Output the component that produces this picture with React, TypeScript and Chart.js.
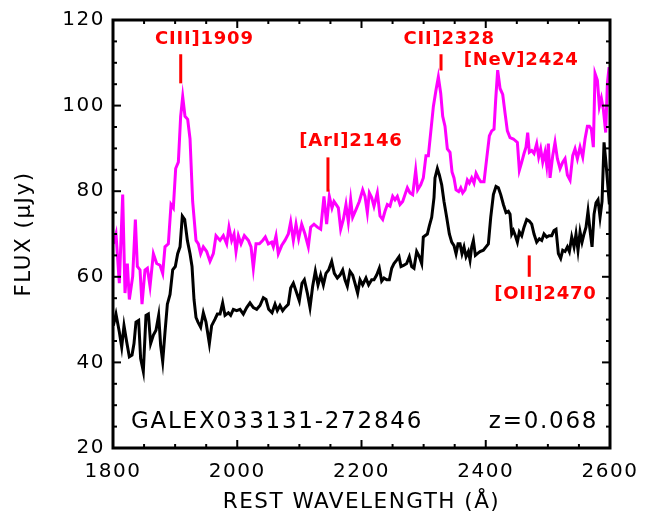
import React, { useEffect, useRef } from 'react';
import { Chart, registerables } from 'chart.js';

Chart.register(...registerables);

// ---------- data ----------
const xTickValues = [1800, 2000, 2200, 2400, 2600];
const xTickLabels = ['1800', '2000', '2200', '2400', '2600'];
const yTickValues = [20, 40, 60, 80, 100, 120];
const yTickLabels = ['20', '40', '60', '80', '100', '120'];

const magentaWave = [
  1800.5, 1804.8, 1810.2, 1815.6, 1819.3, 1823.1, 1826.3, 1831.7, 1836.0, 1839.2,
  1843.5, 1846.7, 1851.5, 1855.3, 1859.6, 1865.0, 1870.3, 1875.7, 1880.0, 1883.7,
  1889.1, 1893.4, 1897.1, 1900.9, 1905.2, 1908.9, 1912.2, 1915.9, 1920.2, 1924.0,
  1928.2, 1933.6, 1937.4, 1941.1, 1945.4, 1950.8, 1956.1, 1961.5, 1965.8, 1972.3,
  1977.6, 1983.0, 1986.7, 1991.0, 1994.8, 1998.0, 2001.8, 2006.1, 2011.4, 2017.9,
  2022.2, 2025.9, 2030.2, 2035.6, 2040.9, 2045.2, 2050.0, 2055.4, 2058.1, 2062.4,
  2066.1, 2071.5, 2076.8, 2082.2, 2086.0, 2090.3, 2094.6, 2098.8, 2103.7, 2109.0,
  2114.4, 2118.2, 2123.5, 2128.9, 2134.3, 2139.6, 2143.9, 2148.2, 2152.5, 2155.7,
  2159.0, 2162.7, 2166.5, 2170.8, 2175.0, 2178.8, 2182.6, 2185.8, 2191.1, 2196.5,
  2201.9, 2205.6, 2209.4, 2212.6, 2216.4, 2220.1, 2225.5, 2229.8, 2234.1, 2237.8,
  2241.6, 2245.9, 2250.2, 2253.9, 2257.7, 2262.0, 2266.3, 2270.0, 2273.8, 2278.1,
  2282.4, 2287.2, 2290.4, 2295.3, 2299.5, 2303.8, 2307.6, 2315.7, 2320.0, 2323.7,
  2327.5, 2330.7, 2334.4, 2338.2, 2342.5, 2345.7, 2348.9, 2352.2, 2356.4, 2359.7,
  2362.9, 2366.6, 2370.4, 2373.6, 2377.4, 2381.1, 2384.4, 2388.1, 2391.9, 2397.2,
  2401.5, 2405.8, 2409.6, 2413.3, 2416.0, 2419.2, 2423.0, 2427.3, 2431.0, 2434.8,
  2439.1, 2444.5, 2450.9, 2454.1, 2457.9, 2461.6, 2464.8, 2467.5, 2470.2, 2474.0,
  2477.7, 2482.0, 2485.2, 2488.4, 2491.7, 2495.4, 2498.1, 2500.8, 2503.5, 2507.8,
  2511.5, 2515.3, 2519.6, 2523.9, 2527.6, 2531.4, 2535.7, 2540.0, 2543.7, 2547.5,
  2551.8, 2556.1, 2559.8, 2563.6, 2566.8, 2570.0, 2573.2, 2575.9, 2579.7, 2582.9,
  2586.1, 2589.3, 2593.1, 2595.8, 2598.5,
];
const magentaFlux = [
  67.7, 70.0, 58.5, 79.2, 56.2, 63.1, 54.7, 60.1, 73.4, 62.4,
  61.6, 53.6, 61.6, 62.0, 57.8, 65.4, 63.1, 62.7, 60.8, 67.0,
  67.7, 76.9, 76.1, 85.3, 86.8, 97.5, 102.1, 97.5, 96.8, 92.2,
  77.6, 68.5, 67.7, 65.4, 67.0, 65.9, 63.6, 65.4, 69.6, 68.5,
  69.6, 67.7, 71.6, 68.5, 70.0, 65.9, 69.6, 67.7, 69.6, 68.5,
  67.0, 62.0, 67.7, 67.7, 68.5, 69.3, 67.7, 68.1, 67.0, 69.6,
  65.4, 67.3, 68.5, 70.0, 72.8, 68.5, 72.3, 68.9, 72.3, 70.0,
  67.0, 71.6, 72.3, 71.6, 71.1, 78.8, 72.3, 78.8, 76.1, 77.6,
  76.9, 76.1, 71.1, 73.4, 76.9, 72.8, 78.0, 73.9, 75.7, 77.6,
  80.3, 78.8, 75.0, 79.6, 78.5, 76.5, 79.6, 74.2, 73.4, 75.3,
  76.9, 76.5, 78.8, 78.0, 78.8, 76.9, 77.6, 79.2, 80.8, 79.6,
  79.2, 84.9, 80.3, 81.5, 83.1, 88.3, 88.3, 99.8, 103.7, 106.7,
  102.9, 97.5, 95.2, 89.9, 89.1, 84.5, 83.1, 80.3, 79.9, 80.8,
  79.6, 80.3, 82.6, 81.9, 83.1, 81.9, 84.2, 83.1, 82.2, 82.2,
  87.6, 92.9, 94.1, 94.5, 101.4, 108.3, 104.0, 102.6, 98.3, 94.1,
  92.5, 92.2, 91.4, 84.9, 86.8, 88.8, 90.3, 93.7, 89.1, 89.5,
  88.8, 91.1, 88.0, 89.9, 86.8, 89.1, 86.1, 91.1, 83.1, 88.3,
  91.4, 87.6, 85.3, 86.8, 87.6, 83.8, 82.6, 88.3, 89.9, 87.6,
  90.3, 88.0, 92.2, 95.2, 95.2, 94.5, 90.3, 107.5, 105.9, 99.8,
  101.7, 99.1, 93.7, 105.2, 109.0,
];

const blackWave = [
  1800.5, 1804.8, 1810.2, 1814.0, 1817.7, 1822.0, 1826.3, 1830.6, 1833.8, 1837.0,
  1841.3, 1844.5, 1848.8, 1853.1, 1856.9, 1860.6, 1865.0, 1869.2, 1873.5, 1876.7,
  1880.0, 1883.7, 1887.5, 1891.8, 1896.1, 1900.3, 1904.1, 1907.9, 1911.6, 1915.4,
  1919.7, 1924.0, 1927.2, 1930.4, 1933.6, 1936.8, 1941.1, 1945.4, 1949.7, 1955.1,
  1958.8, 1964.2, 1968.0, 1972.3, 1976.5, 1980.3, 1985.7, 1989.4, 1993.7, 1999.1,
  2004.4, 2009.8, 2015.2, 2020.5, 2025.9, 2031.3, 2036.6, 2042.0, 2046.3, 2050.6,
  2056.0, 2060.8, 2064.5, 2068.8, 2073.1, 2076.8, 2082.2, 2086.0, 2090.3, 2094.6,
  2099.9, 2104.2, 2108.0, 2112.8, 2117.1, 2121.4, 2125.7, 2130.0, 2134.3, 2138.6,
  2142.8, 2147.1, 2152.0, 2156.3, 2161.1, 2165.4, 2169.7, 2173.4, 2177.2, 2181.5,
  2185.8, 2189.5, 2193.8, 2197.6, 2201.9, 2207.2, 2211.5, 2216.4, 2220.1, 2224.4,
  2228.7, 2232.5, 2236.2, 2240.5, 2244.8, 2248.6, 2252.3, 2256.6, 2260.4, 2263.6,
  2268.4, 2272.7, 2277.0, 2280.8, 2284.5, 2288.8, 2293.1, 2296.9, 2299.5, 2302.2,
  2306.0, 2309.2, 2313.0, 2316.7, 2318.3, 2322.1, 2325.3, 2329.1, 2332.8, 2337.1,
  2341.4, 2345.2, 2348.9, 2352.2, 2355.4, 2358.6, 2361.8, 2365.0, 2368.3, 2372.0,
  2374.7, 2377.4, 2380.1, 2383.3, 2386.5, 2390.8, 2396.2, 2400.4, 2404.2, 2408.0,
  2412.3, 2416.5, 2420.3, 2424.1, 2428.4, 2432.6, 2436.4, 2439.1, 2441.8, 2444.5,
  2447.7, 2450.9, 2454.1, 2457.9, 2461.6, 2465.9, 2470.2, 2474.0, 2477.7, 2482.0,
  2486.3, 2490.1, 2493.8, 2498.1, 2501.9, 2506.2, 2509.9, 2513.1, 2516.9, 2520.6,
  2523.9, 2527.6, 2531.4, 2534.6, 2538.4, 2542.1, 2545.3, 2548.5, 2551.8, 2555.0,
  2558.2, 2561.4, 2564.6, 2567.9, 2571.1, 2574.3, 2577.5, 2580.7, 2584.0, 2587.2,
  2590.4, 2593.6, 2596.8, 2599.0,
];
const blackFlux = [
  48.6, 51.3, 47.1, 43.6, 48.6, 44.8, 41.3, 41.7, 44.4, 49.4,
  49.8, 40.9, 37.9, 51.0, 51.3, 44.4, 46.4, 47.5, 51.0, 44.0,
  40.2, 47.1, 53.6, 55.9, 61.6, 62.4, 65.4, 67.0, 74.2, 73.4,
  68.5, 65.4, 62.4, 54.7, 50.5, 49.4, 48.2, 51.6, 49.4, 44.4,
  48.6, 50.1, 51.3, 51.3, 53.9, 51.0, 51.6, 51.0, 52.4, 52.1,
  52.4, 51.3, 52.8, 53.9, 52.8, 52.4, 53.3, 55.1, 54.7, 52.4,
  51.6, 53.6, 52.1, 53.3, 52.1, 52.8, 53.6, 57.4, 58.5, 56.7,
  54.4, 58.5, 59.3, 56.2, 52.8, 57.8, 61.3, 58.1, 60.4, 58.1,
  60.8, 61.6, 63.6, 60.8, 59.7, 60.4, 61.6, 59.3, 57.8, 61.3,
  60.4, 58.5, 56.2, 59.3, 58.1, 59.7, 58.1, 59.3, 59.3, 60.4,
  62.0, 59.0, 59.7, 59.3, 59.3, 62.0, 63.1, 63.9, 64.7, 62.4,
  62.7, 63.1, 64.7, 62.4, 62.0, 65.9, 64.7, 63.1, 69.3, 69.6,
  70.0, 71.9, 73.9, 78.5, 83.1, 85.3, 83.8, 81.5, 77.6, 73.9,
  70.0, 68.1, 67.3, 65.4, 67.7, 67.7, 65.4, 67.0, 64.7, 65.9,
  63.9, 67.0, 68.5, 65.0, 65.4, 65.9, 66.2, 67.0, 67.7, 73.9,
  79.2, 81.1, 80.8, 79.2, 76.9, 75.0, 75.3, 74.6, 70.0, 70.8,
  69.6, 68.1, 70.5, 69.6, 71.6, 73.4, 73.0, 72.3, 70.0, 68.1,
  68.9, 68.5, 70.0, 69.3, 69.6, 69.6, 70.8, 71.1, 65.4, 64.3,
  66.2, 65.9, 67.0, 65.9, 69.3, 67.0, 70.0, 66.2, 70.5, 68.1,
  70.0, 71.6, 75.3, 70.8, 67.0, 74.6, 77.3, 78.0, 73.9, 77.6,
  91.4, 86.5, 80.8, 76.9,
];

// emission-line annotations (rest wavelength, label)
const lineNames = ['CIII]1909', '[ArI]2146', 'CII]2328', '[NeV]2424', '[OII]2470'];
const lineWaves = [1909, 2146, 2328, 2424, 2470];
// placement in data units: [barLow, barHigh] (null = no bar), label centre [wave, flux]
const lineBars: (number[] | null)[] = [[105.2, 112.0], [79.9, 87.9], [108.2, 112.0], null, [60.0, 65.0]];
const lineLabelPos = [[1947, 115.5], [2183, 91.6], [2341, 115.6], [2457, 110.6], [2496, 55.8]];

const objectName = 'GALEX033131-272846';
const redshiftText = 'z=0.068';
const objectNamePos = [2064, 26.1];
const redshiftPos = [2493, 26.1];

// ---------- chart ----------
const FONT = '"DejaVu Sans", sans-serif';
const RED = '#ff0000';

const framePlugin = {
  id: 'idlFrame',
  beforeDraw(chart: any) {
    chart.ctx.letterSpacing = '1.5px';
  },
  afterDatasetsDraw(chart: any) {
    const { ctx, chartArea: a } = chart;
    const x = chart.scales.x;
    const y = chart.scales.y;
    const seg = (x1: number, y1: number, x2: number, y2: number) => {
      ctx.beginPath();
      ctx.moveTo(x1, y1);
      ctx.lineTo(x2, y2);
      ctx.stroke();
    };
    ctx.save();
    ctx.strokeStyle = '#000';
    ctx.lineWidth = 2;
    for (let v = x.min; v <= x.max + 1e-6; v += 50) {
      const px = x.getPixelForValue(v);
      const len = v % 200 === 0 ? 8 : 4;
      seg(px, a.bottom, px, a.bottom - len);
      seg(px, a.top, px, a.top + len);
    }
    for (let v = y.min; v <= y.max + 1e-6; v += 5) {
      const py = y.getPixelForValue(v);
      const len = v % 20 === 0 ? 8 : 4;
      seg(a.left, py, a.left + len, py);
      seg(a.right, py, a.right - len, py);
    }
    ctx.lineWidth = 3;
    ctx.strokeRect(a.left, a.top, a.right - a.left, a.bottom - a.top);

    // line markers
    ctx.strokeStyle = RED;
    ctx.fillStyle = RED;
    ctx.lineWidth = 3;
    ctx.font = `bold 18px ${FONT}`;
    ctx.letterSpacing = '0.8px';
    ctx.textAlign = 'center';
    ctx.textBaseline = 'middle';
    lineNames.forEach((name, i) => {
      const bar = lineBars[i];
      if (bar) {
        const px = x.getPixelForValue(lineWaves[i]);
        seg(px, y.getPixelForValue(bar[0]), px, y.getPixelForValue(bar[1]));
      }
      const [lw, lf] = lineLabelPos[i];
      ctx.fillText(name, x.getPixelForValue(lw), y.getPixelForValue(lf));
    });

    // object name and redshift
    ctx.fillStyle = '#000';
    ctx.font = `23px ${FONT}`;
    ctx.letterSpacing = '1.75px';
    ctx.fillText(objectName, x.getPixelForValue(objectNamePos[0]), y.getPixelForValue(objectNamePos[1]));
    ctx.fillText(redshiftText, x.getPixelForValue(redshiftPos[0]), y.getPixelForValue(redshiftPos[1]));
    ctx.restore();
  },
};

export default function App() {
  const ref = useRef<HTMLCanvasElement | null>(null);

  useEffect(() => {
    document.body.style.margin = '0';
    const canvas = ref.current;
    if (!canvas) return;
    const chart = new Chart(canvas, {
      type: 'line',
      data: {
        datasets: [
          {
            label: 'magenta',
            data: magentaWave.map((w, i) => ({ x: w, y: magentaFlux[i] })),
            borderColor: '#ff00ff',
            borderWidth: 3,
            pointRadius: 0,
            tension: 0,
            fill: false,
          },
          {
            label: 'black',
            data: blackWave.map((w, i) => ({ x: w, y: blackFlux[i] })),
            borderColor: '#000000',
            borderWidth: 3,
            pointRadius: 0,
            tension: 0,
            fill: false,
          },
        ],
      },
      options: {
        animation: false,
        responsive: false,
        devicePixelRatio: 1,
        layout: { padding: { left: 0, right: 47, top: 12, bottom: 0 } },
        plugins: { legend: { display: false }, tooltip: { enabled: false } },
        scales: {
          x: {
            type: 'linear',
            min: 1800,
            max: 2600,
            grid: { display: false, drawTicks: false },
            border: { display: false },
            afterBuildTicks: (s: any) => {
              s.ticks = xTickValues.map((v) => ({ value: v }));
            },
            afterFit: (s: any) => {
              s.height = 77;
            },
            ticks: {
              autoSkip: false,
              maxRotation: 0,
              color: '#000',
              padding: 12,
              font: { family: FONT, size: 20 },
              callback: (v: any) => xTickLabels[xTickValues.indexOf(Number(v))] ?? '',
            },
            title: {
              display: true,
              text: 'REST WAVELENGTH (Å)',
              color: '#000',
              font: { family: FONT, size: 21.5 },
              padding: { top: 0, bottom: 10 },
            },
          },
          y: {
            type: 'linear',
            min: 20,
            max: 120,
            grid: { display: false, drawTicks: false },
            border: { display: false },
            afterBuildTicks: (s: any) => {
              s.ticks = yTickValues.map((v) => ({ value: v }));
            },
            afterFit: (s: any) => {
              s.width = 113;
            },
            ticks: {
              autoSkip: false,
              color: '#000',
              padding: 8,
              font: { family: FONT, size: 20 },
              callback: (v: any) => yTickLabels[yTickValues.indexOf(Number(v))] ?? '',
            },
            title: {
              display: true,
              text: 'FLUX (μJy)',
              color: '#000',
              font: { family: FONT, size: 21.5 },
              padding: { top: 12, bottom: 0 },
            },
          },
        },
      },
      plugins: [framePlugin],
    });
    return () => chart.destroy();
  }, []);

  return (
    <div style={{ width: 657, height: 525 }}>
      <canvas ref={ref} width={657} height={525} style={{ display: 'block' }} />
    </div>
  );
}
